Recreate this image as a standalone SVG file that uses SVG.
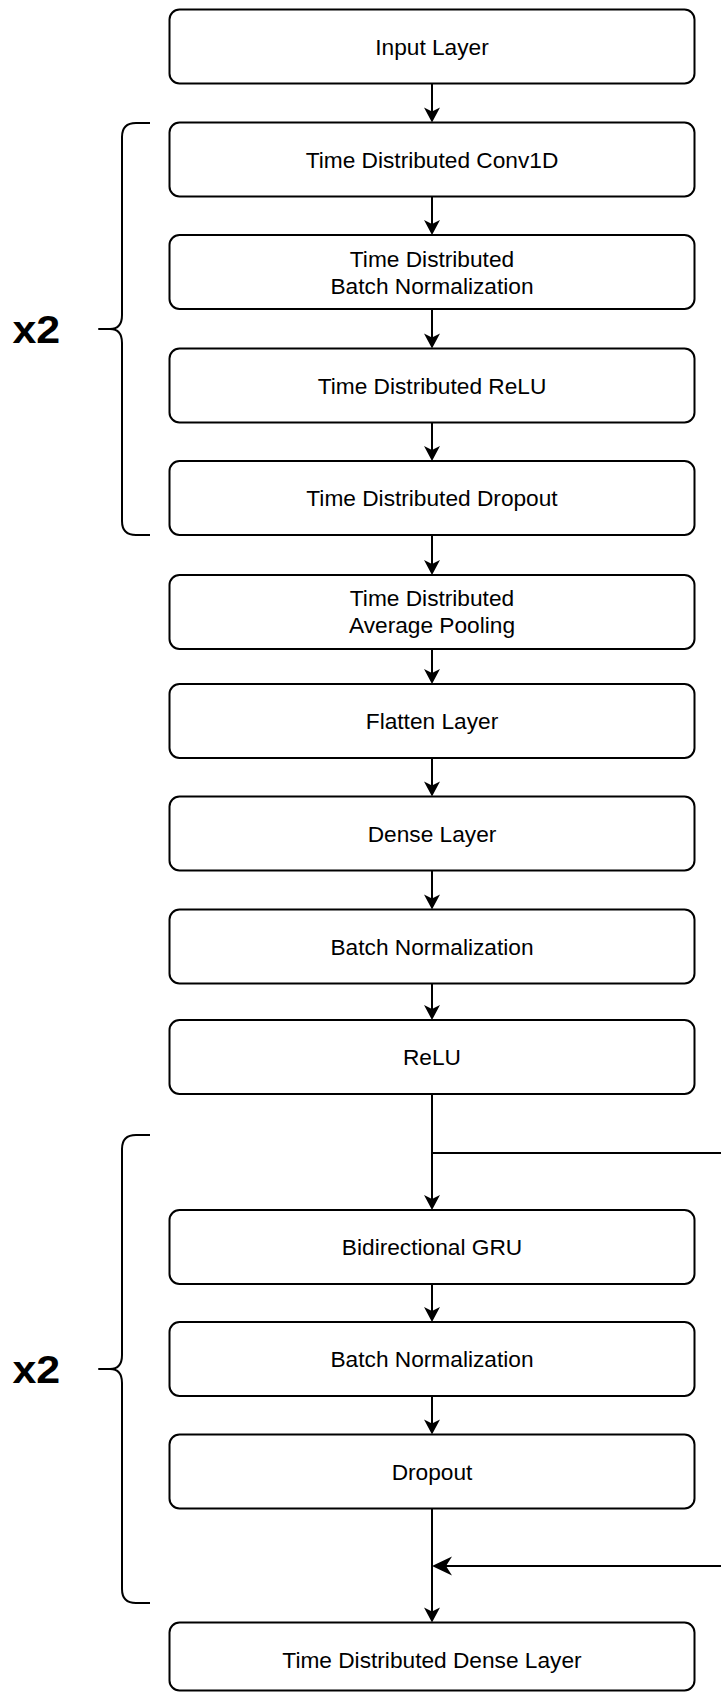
<svg xmlns="http://www.w3.org/2000/svg" width="721" height="1693" viewBox="0 0 721 1693">
  <style>
    .box rect { fill: #ffffff; stroke: #000000; stroke-width: 2; }
    .box text { font-family: "Liberation Sans", Arial, sans-serif; font-size: 22.7px; fill: #000000; text-anchor: middle; }
    .wire { fill: none; stroke: #000000; stroke-width: 2; }
    .brace { fill: none; stroke: #000000; stroke-width: 2; stroke-linejoin: round; }
    .rep { font-family: "Liberation Sans", Arial, sans-serif; font-size: 38px; font-weight: bold; fill: #000000; }
  </style>
  <defs>
    <marker id="arrow" markerUnits="userSpaceOnUse" viewBox="-12 -10 20 20" markerWidth="20" markerHeight="20" refX="0" refY="0" orient="auto">
      <path d="M5,0 L-10,-8 L-6,0 L-10,8 Z" fill="#000000"/>
    </marker>
    <marker id="arrowBig" markerUnits="userSpaceOnUse" viewBox="-17 -11 24 22" markerWidth="24" markerHeight="22" refX="0" refY="0" orient="auto">
      <path d="M5,0 L-15,-9.5 L-9,0 L-15,9.5 Z" fill="#000000"/>
    </marker>
  </defs>

  <rect width="721" height="1693" fill="#ffffff"/>

  <!-- repeat braces -->
  <g id="repeat-conv">
    <path class="brace" d="M150,123 L136,123 Q122,123 122,137 L122,315 Q122,329 110,329 L99,329 L110,329 Q122,329 122,343 L122,521 Q122,535 136,535 L150,535"/>
    <text class="rep" transform="translate(12.5,343) scale(1.13,1)">x2</text>
  </g>
  <g id="repeat-gru">
    <path class="brace" d="M150,1135 L136,1135 Q122,1135 122,1149 L122,1355 Q122,1369 110,1369 L99,1369 L110,1369 Q122,1369 122,1383 L122,1589 Q122,1603 136,1603 L150,1603"/>
    <text class="rep" transform="translate(12.5,1383) scale(1.13,1)">x2</text>
  </g>

  <!-- connectors -->
  <g id="connectors">
    <path class="wire" d="M432,83.5 V117.5" marker-end="url(#arrow)"/>
    <path class="wire" d="M432,196.5 V230" marker-end="url(#arrow)"/>
    <path class="wire" d="M432,309 V343.5" marker-end="url(#arrow)"/>
    <path class="wire" d="M432,422.5 V456" marker-end="url(#arrow)"/>
    <path class="wire" d="M432,535 V570" marker-end="url(#arrow)"/>
    <path class="wire" d="M432,649 V679" marker-end="url(#arrow)"/>
    <path class="wire" d="M432,758 V791.5" marker-end="url(#arrow)"/>
    <path class="wire" d="M432,870.5 V904.5" marker-end="url(#arrow)"/>
    <path class="wire" d="M432,983.5 V1015" marker-end="url(#arrow)"/>
    <path class="wire" d="M432,1094 V1205" marker-end="url(#arrow)"/>
    <path class="wire" d="M432,1153 H730"/>
    <path class="wire" d="M432,1284 V1317" marker-end="url(#arrow)"/>
    <path class="wire" d="M432,1396 V1429.5" marker-end="url(#arrow)"/>
    <path class="wire" d="M432,1508.5 V1617.5" marker-end="url(#arrow)"/>
    <path class="wire" d="M730,1566 H437" marker-end="url(#arrowBig)"/>
  </g>

  <!-- layers -->
  <g id="input-layer" class="box">
    <rect x="169.5" y="9.5" width="525" height="74" rx="10"/>
    <text x="432" y="54.5">Input Layer</text>
  </g>
  <g id="td-conv1d" class="box">
    <rect x="169.5" y="122.5" width="525" height="74" rx="10"/>
    <text x="432" y="167.5">Time Distributed Conv1D</text>
  </g>
  <g id="td-batchnorm" class="box">
    <rect x="169.5" y="235" width="525" height="74" rx="10"/>
    <text x="432" y="266.5">Time Distributed</text>
    <text x="432" y="293.5">Batch Normalization</text>
  </g>
  <g id="td-relu" class="box">
    <rect x="169.5" y="348.5" width="525" height="74" rx="10"/>
    <text x="432" y="393.5">Time Distributed ReLU</text>
  </g>
  <g id="td-dropout" class="box">
    <rect x="169.5" y="461" width="525" height="74" rx="10"/>
    <text x="432" y="506">Time Distributed Dropout</text>
  </g>
  <g id="td-avgpool" class="box">
    <rect x="169.5" y="575" width="525" height="74" rx="10"/>
    <text x="432" y="606">Time Distributed</text>
    <text x="432" y="633">Average Pooling</text>
  </g>
  <g id="flatten" class="box">
    <rect x="169.5" y="684" width="525" height="74" rx="10"/>
    <text x="432" y="729">Flatten Layer</text>
  </g>
  <g id="dense" class="box">
    <rect x="169.5" y="796.5" width="525" height="74" rx="10"/>
    <text x="432" y="841.5">Dense Layer</text>
  </g>
  <g id="batchnorm" class="box">
    <rect x="169.5" y="909.5" width="525" height="74" rx="10"/>
    <text x="432" y="954.5">Batch Normalization</text>
  </g>
  <g id="relu" class="box">
    <rect x="169.5" y="1020" width="525" height="74" rx="10"/>
    <text x="432" y="1065">ReLU</text>
  </g>
  <g id="bi-gru" class="box">
    <rect x="169.5" y="1210" width="525" height="74" rx="10"/>
    <text x="432" y="1255">Bidirectional GRU</text>
  </g>
  <g id="gru-batchnorm" class="box">
    <rect x="169.5" y="1322" width="525" height="74" rx="10"/>
    <text x="432" y="1367">Batch Normalization</text>
  </g>
  <g id="gru-dropout" class="box">
    <rect x="169.5" y="1434.5" width="525" height="74" rx="10"/>
    <text x="432" y="1479.5">Dropout</text>
  </g>
  <g id="td-dense" class="box">
    <rect x="169.5" y="1622.5" width="525" height="68" rx="10"/>
    <text x="432" y="1667.5">Time Distributed Dense Layer</text>
  </g>
</svg>
